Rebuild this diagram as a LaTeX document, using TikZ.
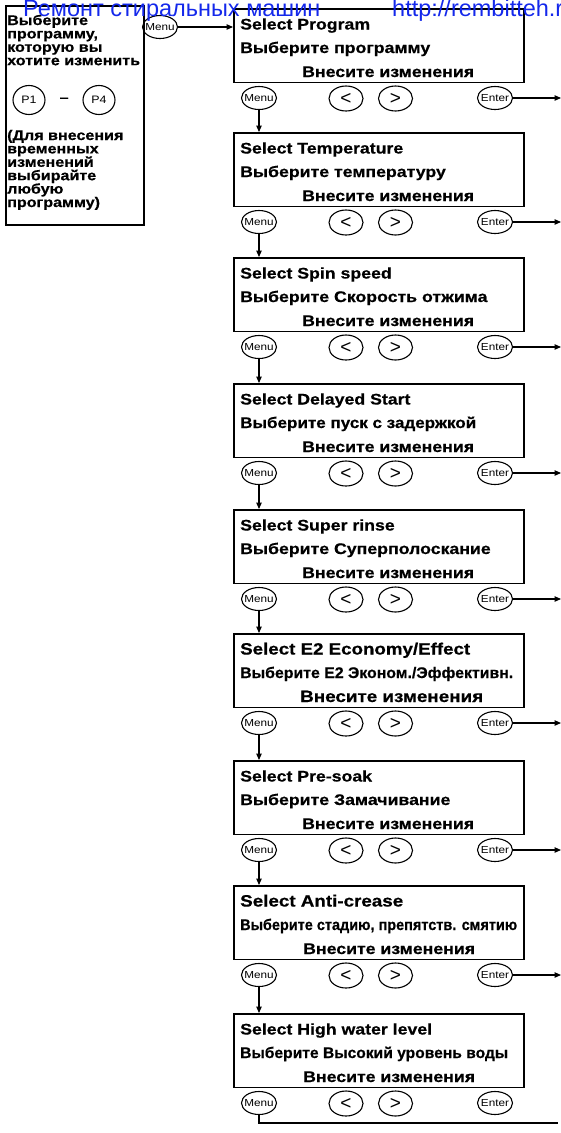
\documentclass[tikz,border=0pt]{standalone}
\usepackage{fontspec}
\setmainfont{Liberation Sans}
\newfontfamily\hv[FakeStretch=1.15]{Liberation Sans}
\newfontfamily\hvb[FakeStretch=1.15,FakeBold=0.6]{Liberation Sans Bold}
\usetikzlibrary{shapes.geometric,arrows.meta}
\definecolor{hdrblue}{RGB}{20,40,235}
\tikzset{
  lbox/.style={draw, line width=1.5pt, minimum width=290pt, minimum height=73.5pt, anchor=north west, inner sep=0pt},
  ttl/.style={anchor=base west, inner sep=0pt, font=\hvb\fontsize{15.4}{18}\selectfont},
  lft/.style={anchor=base west, inner sep=0pt, font=\hvb\fontsize{14}{15}\selectfont},
  btn/.style={ellipse, draw, line width=1.1pt, inner sep=0pt, minimum width=35pt, minimum height=23pt, font=\hv\fontsize{10.2}{12}\selectfont},
  arrbtn/.style={ellipse, draw, line width=1.1pt, inner sep=0pt, minimum width=34pt, minimum height=25pt, font=\fontsize{19}{20}\selectfont},
  pbtn/.style={ellipse, draw, line width=1.1pt, inner sep=0pt, minimum width=32pt, minimum height=29pt, font=\hv\fontsize{10.8}{12}\selectfont},
  conn/.style={line width=1.1pt},
  arr/.style={line width=1.1pt, -{Triangle[length=6.5pt,width=5.5pt]}},
  hdr/.style={anchor=base west, inner sep=0pt, text=hdrblue, font=\fontsize{23.5}{26}\selectfont}
}
\newcommand\zb[1]{\makebox[0pt]{#1}}
\newcommand\mblock[5]{%
  \node[lbox] (b#1) at (233,#2) {};
  \node[ttl] (ta#1) at (240,#2+21.5) {#3};
  \node[ttl] (tb#1) at (240,#2+45) {#4};
  \node[ttl] (tc#1) at (#5,#2+69) {\ifnum#1=6 \resizebox{183pt}{!}{Внесите изменения}\else Внесите изменения\fi};
  \node[btn] (m#1) at (259,#2+90) {\zb{Menu}};
  \node[arrbtn] (l#1) at (346,#2+90.5) {\zb{<}};
  \node[arrbtn] (r#1) at (395.5,#2+90.5) {\zb{>}};
  \node[btn] (e#1) at (495,#2+90) {\zb{Enter}};
}
\begin{document}
\begin{tikzpicture}[x=1pt,y=-1pt]
\useasboundingbox (0,0) rectangle (561,1133);
\begin{scope}
\clip (0,0) rectangle (561,1133);
% left panel
\node[draw, line width=1.5pt, anchor=north west, minimum width=138pt, minimum height=219pt, inner sep=0pt] (lp) at (5,5) {};
\node[lft] (l1a) at (7,25) {Выберите};
\node[lft] (l1b) at (7,38.4) {программу,};
\node[lft] (l1c) at (7,51.8) {которую вы};
\node[lft] (l1d) at (7,65.2) {хотите изменить};
\node[pbtn] (p1) at (29,100) {\zb{P1}};
\node[pbtn] (p4) at (99,100) {\zb{P4}};
\node[lft] (dash) at (59.5,102) {–};
\node[lft] (l2a) at (7,140) {(Для внесения};
\node[lft] (l2b) at (7,153.4) {временных};
\node[lft] (l2c) at (7,166.8) {изменений};
\node[lft] (l2d) at (7,180.2) {выбирайте};
\node[lft] (l2e) at (7,193.6) {любую};
\node[lft] (l2f) at (7,207) {программу)};
\node[btn] (m0) at (160,27) {\zb{Menu}};
% blocks
\mblock{1}{8}{Select Program}{Выберите программу}{302}
\mblock{2}{132}{Select Temperature}{Выберите температуру}{302}
\mblock{3}{257}{Select Spin speed}{Выберите Скорость отжима}{302}
\mblock{4}{383}{Select Delayed Start}{\resizebox{236pt}{\height}{Выберите пуск с задержкой}}{302}
\mblock{5}{509}{Select Super rinse}{Выберите Суперполоскание}{302}
\mblock{6}{633}{\resizebox{230pt}{!}{Select E2 Economy/Effect}}{\resizebox{273pt}{\height}{Выберите E2 Эконом./Эффективн.}}{300}
\mblock{7}{760}{Select Pre-soak}{Выберите Замачивание}{302}
\mblock{8}{885}{\resizebox{163pt}{!}{Select Anti-crease}}{\resizebox{277pt}{\height}{Выберите стадию, препятств. смятию}}{303}
\mblock{9}{1013}{Select High water level}{\resizebox{268pt}{\height}{Выберите Высокий уровень воды}}{303}
% connectors
\draw[arr] (m0.east) -- (m0.east -| b1.west);
\foreach \i/\j in {1/2,2/3,3/4,4/5,5/6,6/7,7/8,8/9}{
  \draw[arr] (m\i.south) -- (m\i.south |- b\j.north);
}
\foreach \i in {1,...,8}{
  \coordinate (ee\i) at (561,0);
  \draw[arr] (e\i.east) -- (e\i.east -| ee\i);
}
\coordinate (fin) at (558,1123);
\draw[conn] (m9.south) |- (fin);
% header
\node[hdr] (h1) at (23,16.5) {Ремонт стиральных машин};
\node[hdr] (h2) at (392,16.5) {http://rembitteh.ru};
\end{scope}
\end{tikzpicture}
\end{document}
